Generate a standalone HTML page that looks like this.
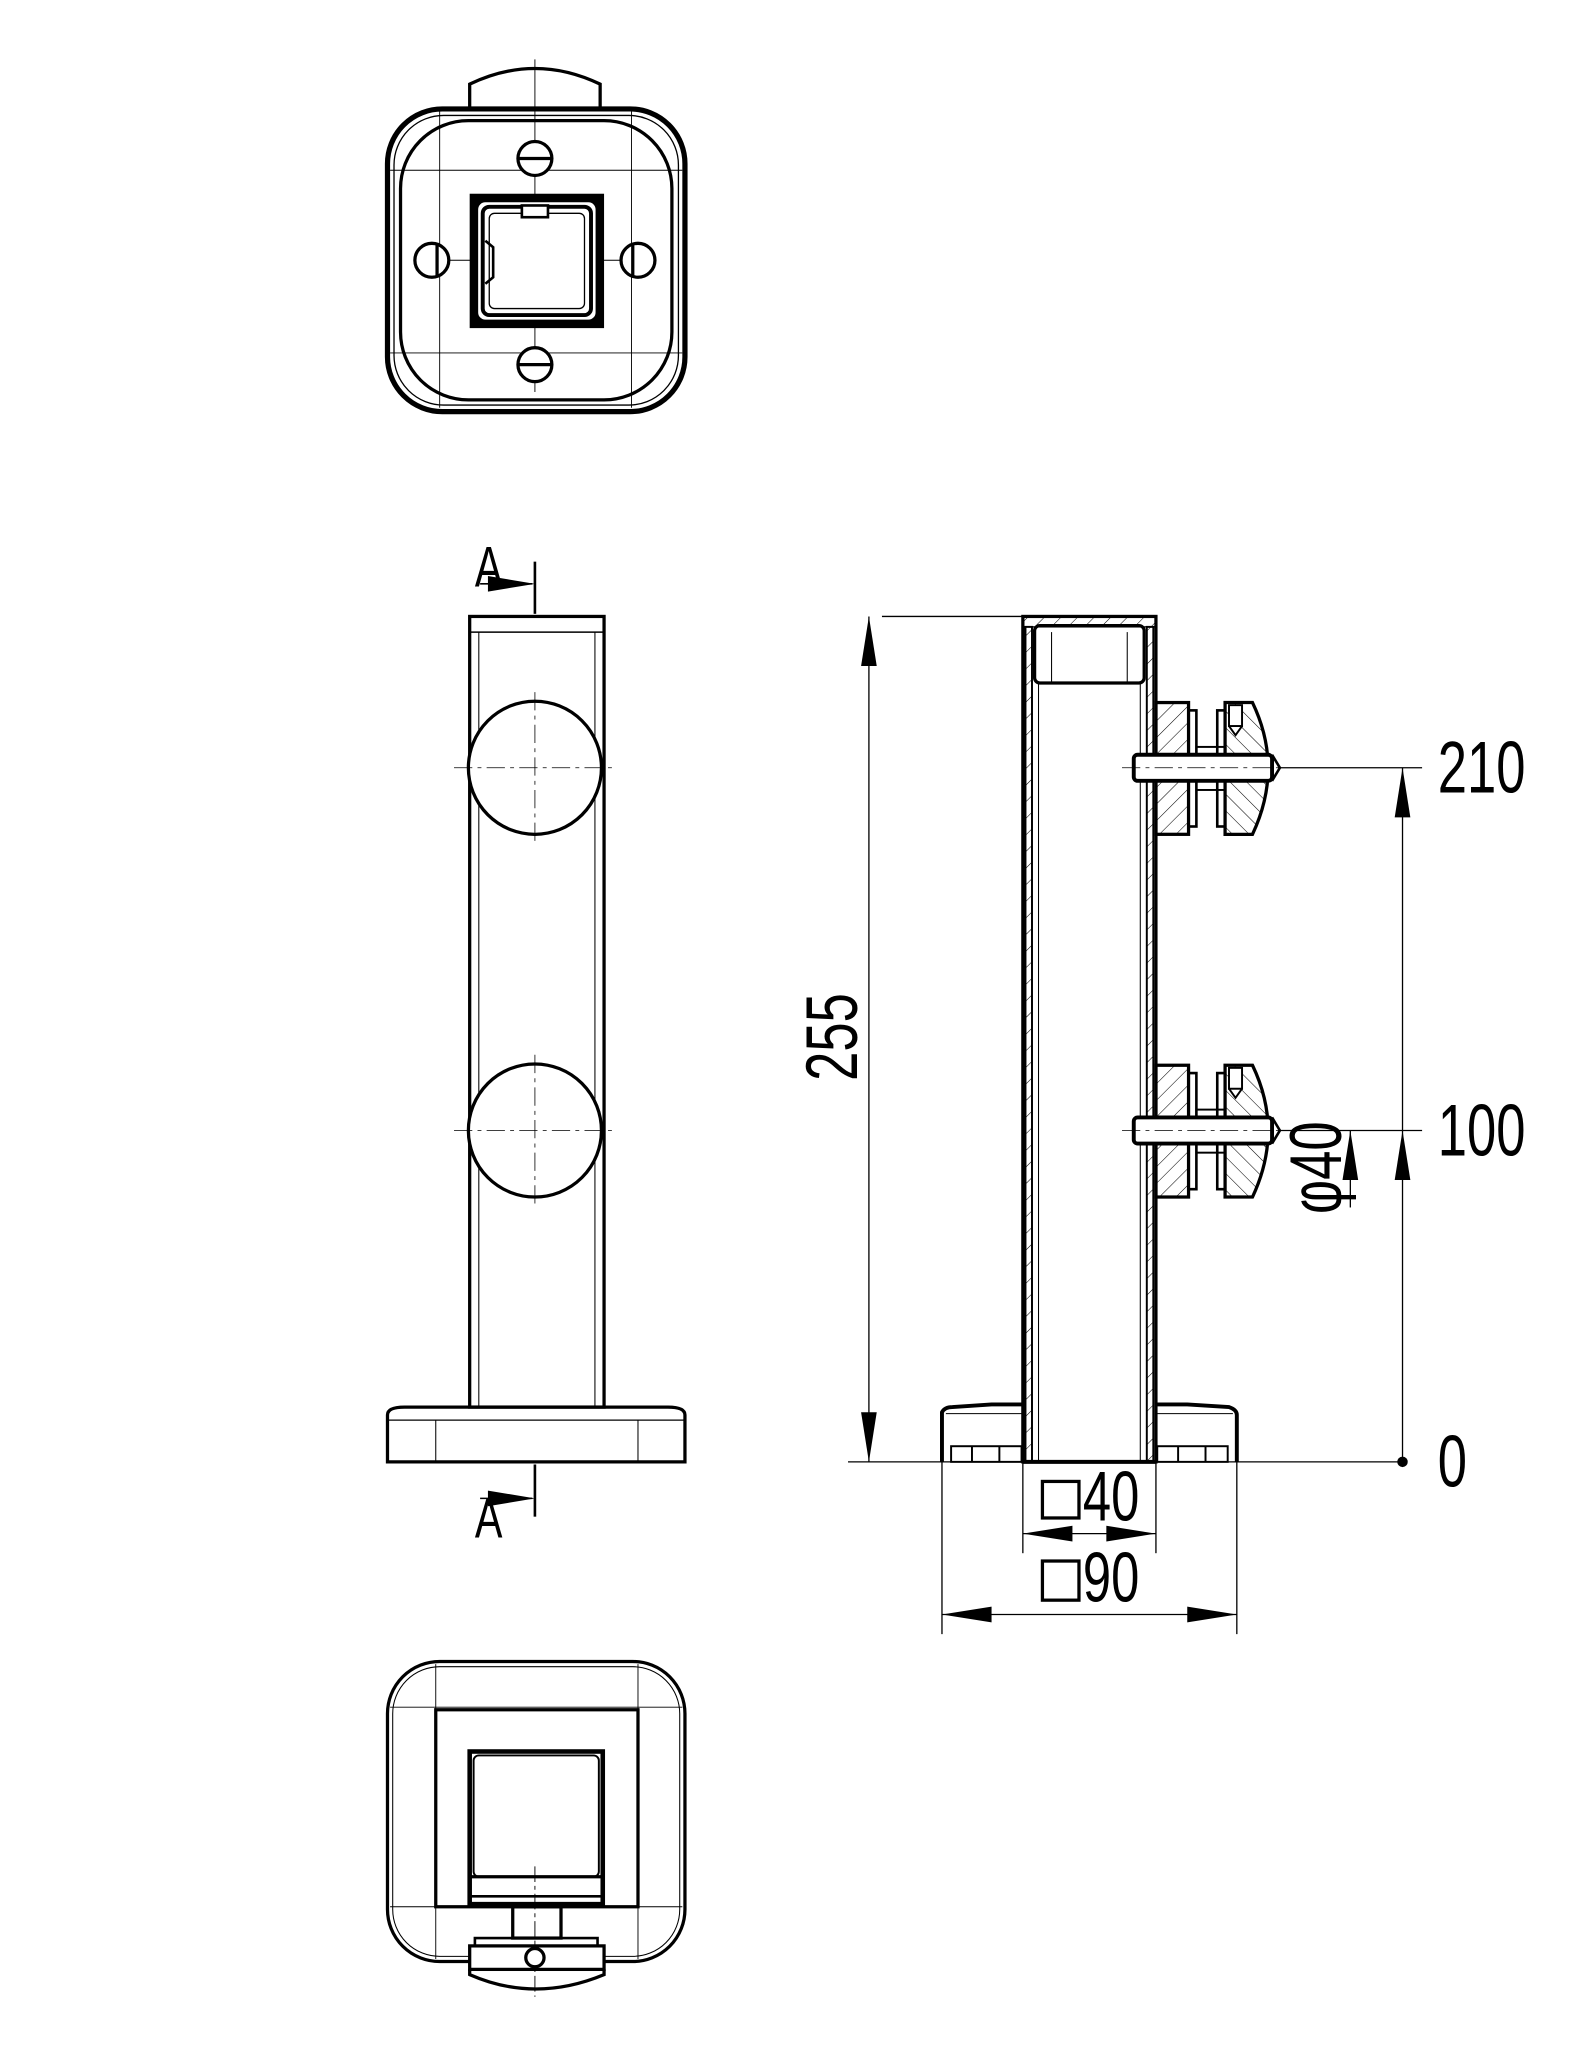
<!DOCTYPE html>
<html><head><meta charset="utf-8"><style>
html,body{margin:0;padding:0;background:#fff;}
svg{display:block;}
text{font-family:"Liberation Sans","DejaVu Sans",sans-serif;fill:#000;}
</style></head><body>
<svg width="1593" height="2047" viewBox="0 0 1221 1568" xmlns="http://www.w3.org/2000/svg">
<defs>
<pattern id="h" patternUnits="userSpaceOnUse" width="9" height="9" patternTransform="rotate(45)"><line x1="0" y1="0" x2="0" y2="9" stroke="#000" stroke-width="0.8"/></pattern>
<pattern id="h2" patternUnits="userSpaceOnUse" width="9" height="9" patternTransform="rotate(-45)"><line x1="0" y1="0" x2="0" y2="9" stroke="#000" stroke-width="0.8"/></pattern>
</defs>
<rect width="1221" height="1568" fill="#fff"/>
<g fill="none" stroke="#000">
<!-- TOP VIEW -->
<path d="M360 83 L360 64 Q410 40 460 64 L460 83" stroke-width="2.5"/>
<rect x="297" y="83" width="228" height="232" rx="42" stroke-width="4"/>
<rect x="302" y="88" width="218" height="222" rx="38" stroke-width="1"/>
<rect x="307" y="92" width="208" height="214" rx="52" stroke-width="2.5"/>
<g stroke-width="0.7"><line x1="410" y1="45" x2="410" y2="300"/><line x1="320" y1="199" x2="500" y2="199"/><line x1="337" y1="85" x2="337" y2="312"/><line x1="484" y1="85" x2="484" y2="312"/><line x1="299" y1="130" x2="523" y2="130"/><line x1="299" y1="270" x2="523" y2="270"/></g>
<rect x="360" y="148" width="103" height="103" fill="#000" stroke="none"/>
<rect x="366" y="154" width="91" height="91" rx="6" fill="#fff" stroke="#000" stroke-width="1"/>
<rect x="370" y="158" width="83" height="83" rx="5" fill="#fff" stroke="#000" stroke-width="3"/>
<rect x="375" y="163" width="73" height="73" rx="4" fill="#fff" stroke="#000" stroke-width="1"/>
<rect x="400" y="157" width="20" height="9" fill="#fff" stroke-width="2"/>
<path d="M372 184 L378 189 L378 212 L372 217" stroke-width="2"/>
<g stroke-width="2.5" fill="#fff">
<circle cx="410" cy="121" r="13"/><circle cx="410" cy="279" r="13"/><circle cx="331" cy="199" r="13"/><circle cx="489" cy="199" r="13"/></g>
<g stroke-width="2.5"><line x1="397" y1="121" x2="423" y2="121"/><line x1="397" y1="279" x2="423" y2="279"/><line x1="335" y1="186" x2="335" y2="212"/><line x1="485" y1="186" x2="485" y2="212"/></g>

<!-- FRONT VIEW -->
<rect x="360" y="472" width="103" height="606" stroke-width="2.5"/>
<line x1="360" y1="484" x2="463" y2="484" stroke-width="1.2"/>
<line x1="367" y1="484" x2="367" y2="1078" stroke-width="0.8"/>
<line x1="456" y1="484" x2="456" y2="1078" stroke-width="0.8"/>
<circle cx="410" cy="588" r="51" stroke-width="2.5" fill="#fff"/>
<circle cx="410" cy="866" r="51" stroke-width="2.5" fill="#fff"/>
<g stroke-width="0.6" stroke-dasharray="14 4 3 4"><line x1="348" y1="588" x2="472" y2="588"/><line x1="348" y1="866" x2="472" y2="866"/><line x1="410" y1="530" x2="410" y2="645"/><line x1="410" y1="808" x2="410" y2="925"/></g>
<path d="M297 1120 L297 1084 Q297 1078 310 1078 L512 1078 Q525 1078 525 1084 L525 1120 Z" stroke-width="2.5"/>
<line x1="297" y1="1088" x2="525" y2="1088" stroke-width="1"/>
<line x1="334" y1="1088" x2="334" y2="1120" stroke-width="0.8"/>
<line x1="489" y1="1088" x2="489" y2="1120" stroke-width="0.8"/>
<line x1="410" y1="430" x2="410" y2="470" stroke-width="2"/>
<line x1="368" y1="447" x2="408" y2="447" stroke-width="1.2"/>
<line x1="410" y1="1122" x2="410" y2="1162" stroke-width="2"/>
<line x1="368" y1="1148" x2="408" y2="1148" stroke-width="1.2"/>
</g>
<polygon points="410,447 374,441 374,453" fill="#000"/>
<polygon points="410,1148 374,1142 374,1154" fill="#000"/>
<text font-size="44" transform="translate(364,449) scale(0.72,1)">A</text>
<text font-size="44" transform="translate(364,1178) scale(0.72,1)">A</text>

<!-- SIDE SECTION -->
<g fill="none" stroke="#000">
<rect x="784" y="472" width="102" height="648" stroke-width="2.5"/>
<rect x="784" y="472" width="102" height="8" fill="url(#h)" stroke-width="1"/>
<rect x="786" y="480" width="5" height="640" fill="url(#h)" stroke-width="1.5"/>
<rect x="879" y="480" width="5" height="640" fill="url(#h)" stroke-width="1.5"/>
<line x1="796" y1="522" x2="796" y2="1120" stroke-width="0.8"/>
<line x1="874" y1="522" x2="874" y2="1120" stroke-width="0.8"/>
<rect x="793" y="479" width="84" height="44" rx="4" stroke-width="2.5"/>
<line x1="806" y1="484" x2="806" y2="522" stroke-width="0.8"/>
<line x1="864" y1="484" x2="864" y2="522" stroke-width="0.8"/>
<g id="br">
<rect x="886" y="538" width="25" height="101" fill="url(#h)" stroke-width="2.5"/>
<rect x="911" y="544" width="6" height="89" stroke-width="2"/>
<rect x="917" y="572" width="22" height="33" stroke-width="1.5"/>
<rect x="933" y="544" width="6" height="89" stroke-width="2"/>
<path d="M939 538 L960 538 Q984 588 960 639 L939 639 Z" fill="url(#h2)" stroke-width="2.5"/>
<rect x="942" y="540" width="10" height="16" fill="#fff" stroke-width="1.5"/>
<path d="M942 556 L947 563 L952 556" stroke-width="1.5"/>
<rect x="869" y="578" width="106" height="20" rx="3" fill="#fff" stroke-width="3"/>
<path d="M975 578 L981 588 L975 598" stroke-width="2"/>
<line x1="860" y1="588" x2="985" y2="588" stroke-width="0.6" stroke-dasharray="14 4 3 4"/>
</g>
<use href="#br" transform="translate(0,278)"/>
<path d="M722 1120 L722 1082 Q724 1078 730 1078 L760 1076 L784 1076 M886 1076 L910 1076 L942 1078 Q948 1080 948 1084 L948 1120" stroke-width="3"/>
<line x1="725" y1="1083" x2="784" y2="1083" stroke-width="0.8"/>
<line x1="886" y1="1083" x2="945" y2="1083" stroke-width="0.8"/>
<rect x="729" y="1108" width="54" height="12" stroke-width="1.5"/>
<line x1="745" y1="1108" x2="745" y2="1120" stroke-width="1.5"/><line x1="766" y1="1108" x2="766" y2="1120" stroke-width="1.5"/>
<rect x="887" y="1108" width="54" height="12" stroke-width="1.5"/>
<line x1="903" y1="1108" x2="903" y2="1120" stroke-width="1.5"/><line x1="924" y1="1108" x2="924" y2="1120" stroke-width="1.5"/>
<line x1="784" y1="1120" x2="886" y2="1120" stroke-width="3"/>
<g stroke-width="1">
<line x1="676" y1="472" x2="784" y2="472"/>
<line x1="650" y1="1120" x2="1075" y2="1120"/>
<line x1="666" y1="472" x2="666" y2="1120"/>
<line x1="980" y1="588" x2="1090" y2="588"/>
<line x1="980" y1="866" x2="1090" y2="866"/>
<line x1="1075" y1="588" x2="1075" y2="1120"/>
<line x1="1035" y1="866" x2="1035" y2="925"/>
<line x1="722" y1="1120" x2="722" y2="1252"/>
<line x1="948" y1="1120" x2="948" y2="1252"/>
<line x1="784" y1="1120" x2="784" y2="1190"/>
<line x1="886" y1="1120" x2="886" y2="1190"/>
<line x1="784" y1="1175" x2="886" y2="1175"/>
<line x1="722" y1="1237" x2="948" y2="1237"/>
</g>
</g>
<g fill="#000">
<polygon points="666,472 660,510 672,510"/>
<polygon points="666,1120 660,1082 672,1082"/>
<polygon points="1075,588 1069,626 1081,626"/>
<polygon points="1075,866 1069,904 1081,904"/>
<polygon points="1035,866 1029,904 1041,904"/>
<polygon points="784,1175 822,1169 822,1181"/>
<polygon points="886,1175 848,1169 848,1181"/>
<polygon points="722,1237 760,1231 760,1243"/>
<polygon points="948,1237 910,1231 910,1243"/>
<circle cx="1075" cy="1120" r="4"/>
</g>
<text font-size="56" transform="translate(657,828) rotate(-90) scale(0.72,1)">255</text>
<text font-size="56" transform="translate(1102,607) scale(0.72,1)">210</text>
<text font-size="56" transform="translate(1102,885) scale(0.72,1)">100</text>
<text font-size="56" transform="translate(1102,1139) scale(0.72,1)">0</text>
<text font-size="56" transform="translate(1028,930) rotate(-90) scale(0.72,1)">φ40</text>
<g fill="none" stroke="#000" stroke-width="2.5"><rect x="799" y="1135" width="28" height="28"/><rect x="799" y="1196" width="28" height="30"/></g>
<text font-size="54" transform="translate(830,1165) scale(0.72,1)">40</text>
<text font-size="54" transform="translate(830,1227) scale(0.72,1)">90</text>

<!-- BOTTOM VIEW -->
<g fill="none" stroke="#000">
<rect x="297" y="1273" width="228" height="230" rx="40" stroke-width="2.5"/>
<rect x="301" y="1277" width="220" height="222" rx="36" stroke-width="0.8"/>
<g stroke-width="0.7"><line x1="334" y1="1275" x2="334" y2="1501"/><line x1="489" y1="1275" x2="489" y2="1501"/><line x1="299" y1="1308" x2="523" y2="1308"/><line x1="299" y1="1461" x2="523" y2="1461"/><line x1="410" y1="1430" x2="410" y2="1530" stroke-dasharray="12 3 3 3"/></g>
<rect x="334" y="1310" width="155" height="151" stroke-width="2.5"/>
<rect x="360" y="1342" width="102" height="117" stroke-width="3.5"/>
<rect x="363" y="1345" width="96" height="93" rx="4" stroke-width="1.5"/>
<line x1="360" y1="1438" x2="462" y2="1438" stroke-width="2.5"/>
<line x1="360" y1="1453" x2="462" y2="1453" stroke-width="2"/>
<rect x="393" y="1461" width="37" height="24" stroke-width="2.5"/>
<rect x="364" y="1485" width="94" height="6" stroke-width="2"/>
<rect x="360" y="1491" width="103" height="18" fill="#fff" stroke-width="2.5"/>
<path d="M360 1509 L360 1513 Q410 1535 463 1513 L463 1509" stroke-width="2.5"/>
<circle cx="410" cy="1500" r="7" stroke-width="2.5"/>
</g>
</svg>
</body></html>
